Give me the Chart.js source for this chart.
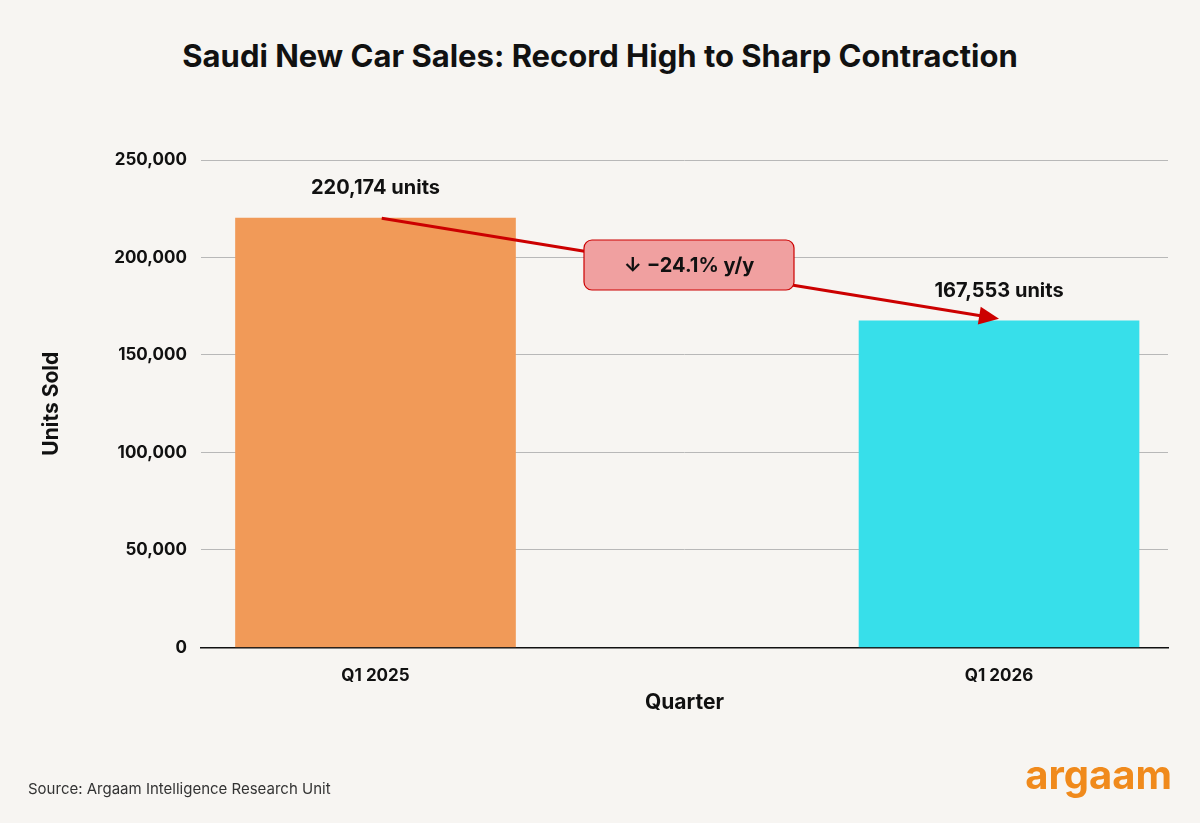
<!DOCTYPE html>
<html>
<head>
<meta charset="utf-8">
<script src="https://cdn.jsdelivr.net/npm/chart.js@4"></script>
<style>
  body { margin: 0; background: #f7f5f2; }
  #wrap { position: relative; width: 1200px; height: 823px; }
  h1 { position: absolute; top: 37px; left: 0; width: 1200px; margin: 0; text-align: center;
       font: 700 31px Inter, sans-serif; color: #111; }
  #src { position: absolute; left: 28px; top: 779px; font: 15px Inter, sans-serif; color: #333; }
  #logo { position: absolute; right: 28px; top: 750px; font: 700 40px Inter, sans-serif; color: #f08a1c; }
  #c { position: absolute; left: 0; top: 0; }
</style>
</head>
<body>
<div id="wrap">
  <h1>Saudi New Car Sales: Record High to Sharp Contraction</h1>
  <canvas id="c" width="1200" height="823"></canvas>
  <div id="src">Source: Argaam Intelligence Research Unit</div>
  <div id="logo">argaam</div>
</div>
<script>
// data
const quarters = ["Q1 2025", "Q1 2026"];
const unitsSold = [220174, 167553];
const barColors = ["#f19a58", "#37dfea"];
const yTicks = [0, 50000, 100000, 150000, 200000, 250000];
const changeLabel = "↓ −24.1% y/y";

// arrow + value labels
const annotate = {
  id: "annotate",
  afterDatasetsDraw(chart) {
    const { ctx, scales: { x, y } } = chart;
    ctx.save();
    ctx.font = "700 20px Inter, sans-serif";
    ctx.fillStyle = "#111";
    ctx.textAlign = "center";
    ctx.textBaseline = "bottom";
    unitsSold.forEach((v, i) => {
      ctx.fillText(v.toLocaleString("en-US") + " units", x.getPixelForValue(i), y.getPixelForValue(v) - 20);
    });
    const x1 = x.getPixelForValue(0.01), y1 = y.getPixelForValue(unitsSold[0]);
    const x2 = x.getPixelForValue(1), y2 = y.getPixelForValue(unitsSold[1]) - 2;
    const ang = Math.atan2(y2 - y1, x2 - x1);
    ctx.strokeStyle = "#cc0000";
    ctx.fillStyle = "#cc0000";
    ctx.lineWidth = 3;
    ctx.beginPath();
    ctx.moveTo(x1, y1);
    ctx.lineTo(x2 - 14 * Math.cos(ang), y2 - 14 * Math.sin(ang));
    ctx.stroke();
    ctx.beginPath();
    ctx.moveTo(x2, y2);
    ctx.lineTo(x2 - 20 * Math.cos(ang) + 9 * Math.sin(ang), y2 - 20 * Math.sin(ang) - 9 * Math.cos(ang));
    ctx.lineTo(x2 - 20 * Math.cos(ang) - 9 * Math.sin(ang), y2 - 20 * Math.sin(ang) + 9 * Math.cos(ang));
    ctx.closePath();
    ctx.fill();
    const bx = 689, by = 265, bw = 210, bh = 50;
    ctx.beginPath();
    ctx.roundRect(bx - bw / 2, by - bh / 2, bw, bh, 8);
    ctx.fillStyle = "#f0a0a0";
    ctx.fill();
    ctx.lineWidth = 1.2;
    ctx.stroke();
    ctx.fillStyle = "#111";
    ctx.textBaseline = "middle";
    ctx.fillText(changeLabel, bx, by + 1);
    ctx.restore();
  }
};

new Chart(document.getElementById("c"), {
  type: "bar",
  data: {
    datasets: [{
      data: unitsSold.map((v, i) => ({ x: i, y: v })),
      backgroundColor: barColors,
      barThickness: 280
    }]
  },
  options: {
    responsive: false,
    animation: false,
    layout: { padding: { top: 160, left: 35, right: 32, bottom: 108 } },
    plugins: { legend: { display: false }, tooltip: { enabled: false } },
    scales: {
      x: {
        type: "linear",
        offset: false,
        bounds: "data",
        min: -0.28, max: 1.271,
        afterDataLimits: (s) => { s.min = -0.28; s.max = 1.271; },
        afterBuildTicks: (s) => { s.ticks = quarters.map((q, i) => ({ value: i })); },
        ticks: { callback: (v) => quarters[v], color: "#111", font: { family: "Inter", size: 17, weight: "700" }, padding: 10 },
        grid: { display: false, offset: false },
        border: { color: "#111", width: 1.5 },
        title: { display: true, text: "Quarter", color: "#111", font: { family: "Inter", size: 21, weight: "700" }, padding: { top: -6, bottom: 0 } }
      },
      y: {
        min: 0, max: 250000,
        afterBuildTicks: (s) => { s.ticks = yTicks.map(v => ({ value: v })); },
        ticks: { callback: (v) => v.toLocaleString("en-US"), color: "#111", font: { family: "Inter", size: 17, weight: "700" }, padding: 14 },
        grid: { color: "#b8b8b8", drawTicks: false },
        border: { display: false },
        title: { display: true, text: "Units Sold", color: "#111", font: { family: "Inter", size: 21, weight: "700" }, padding: { bottom: 36 } }
      }
    }
  },
  plugins: [annotate]
});
</script>
</body>
</html>
